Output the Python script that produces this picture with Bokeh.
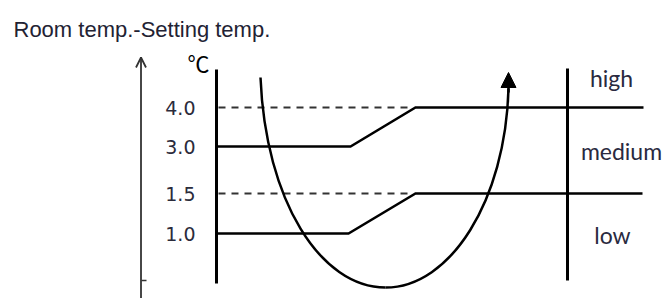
from bokeh.plotting import figure
from bokeh.models import Range1d, Arrow, OpenHead, NormalHead
from bokeh.core.properties import value
from bokeh.embed import file_html
from bokeh.resources import INLINE

# ---- chart content (schematic, page-pixel coordinates) ----
title_text = "Room temp.-Setting temp."
unit_label = "℃"
tick_labels = ["4.0", "3.0", "1.5", "1.0"]
tick_y = [107, 146, 193, 233]
band_labels = ["high", "medium", "low"]
band_x = [611, 621, 612]
band_y = [77, 150, 234]

# switching lines (solid) : 3.0 -> 4.0 and 1.0 -> 1.5
upper_x = [216, 350, 415, 643]
upper_y = [146, 146, 107, 107]
lower_x = [216, 348, 415, 642]
lower_y = [233, 233, 193, 193]
# dashed guide lines at 4.0 and 1.5
dash_x0 = [218, 218]
dash_x1 = [413, 413]
dash_y = [107, 193]

# room-temperature curve (two cubic segments)
cx_start = [260, 385]
cy_start = [77, 287]
cx_end = [385, 508]
cy_end = [287, 88]
c0x = [265, 450]
c0y = [200, 287]
c1x = [320, 505]
c1y = [287, 200]

W, H = 664, 298
p = figure(width=W, height=H, output_backend="svg", toolbar_location=None,
           x_range=Range1d(0, W), y_range=Range1d(H, 0),
           x_axis_type=None, y_axis_type=None, min_border=0,
           background_fill_color="white", border_fill_color="white")
p.outline_line_color = None
p.grid.visible = False

# title
p.text(x=[13], y=[29], text=[title_text], text_align="left", text_baseline="alphabetic",
       text_font=value("Liberation Sans"), text_font_size="22px", text_color="#222233")

# left rising arrow (room temp - setting temp)
p.add_layout(Arrow(end=OpenHead(size=10, line_width=1.8, line_color="#333333"),
                   x_start=140.5, y_start=300, x_end=140.5, y_end=57,
                   line_color="#333333", line_width=1.8))
p.segment(x0=[141], y0=[280], x1=[146], y1=[280], line_color="#333333", line_width=1.5)

# unit
p.text(x=[198], y=[61], text=[unit_label], text_align="center", text_baseline="middle",
       text_font=value("Noto Sans CJK SC"), text_font_size="22px", text_color="black")

# main vertical axis and right vertical line
p.segment(x0=[216, 567], y0=[69, 68], x1=[216, 567], y1=[283, 280],
          line_color="black", line_width=3)

# tick labels
p.text(x=[195] * len(tick_labels), y=tick_y, text=tick_labels, text_align="right",
       text_baseline="middle", text_font=value("DejaVu Sans"), text_font_size="19px",
       text_color="#2b2b3b")

# dashed guides
p.segment(x0=dash_x0, y0=dash_y, x1=dash_x1, y1=dash_y, line_color="#333333",
          line_width=2, line_dash="7 6")

# switching lines
p.line(upper_x, upper_y, line_color="black", line_width=2.5, line_join="miter")
p.line(lower_x, lower_y, line_color="black", line_width=2.5, line_join="miter")

# curve
p.bezier(x0=cx_start, y0=cy_start, x1=cx_end, y1=cy_end, cx0=c0x, cy0=c0y,
         cx1=c1x, cy1=c1y, line_color="black", line_width=2.5)
p.add_layout(Arrow(end=NormalHead(size=15, fill_color="black", line_color="black", line_width=1),
                   x_start=508, y_start=92, x_end=508, y_end=72,
                   line_color="black", line_width=2.5))

# band labels
p.text(x=band_x, y=band_y, text=band_labels, text_align="center", text_baseline="middle",
       text_font=value("Lato"), text_font_size="23px", text_color="#2a2a40")

open("out.html", "w").write(file_html(p, INLINE))
